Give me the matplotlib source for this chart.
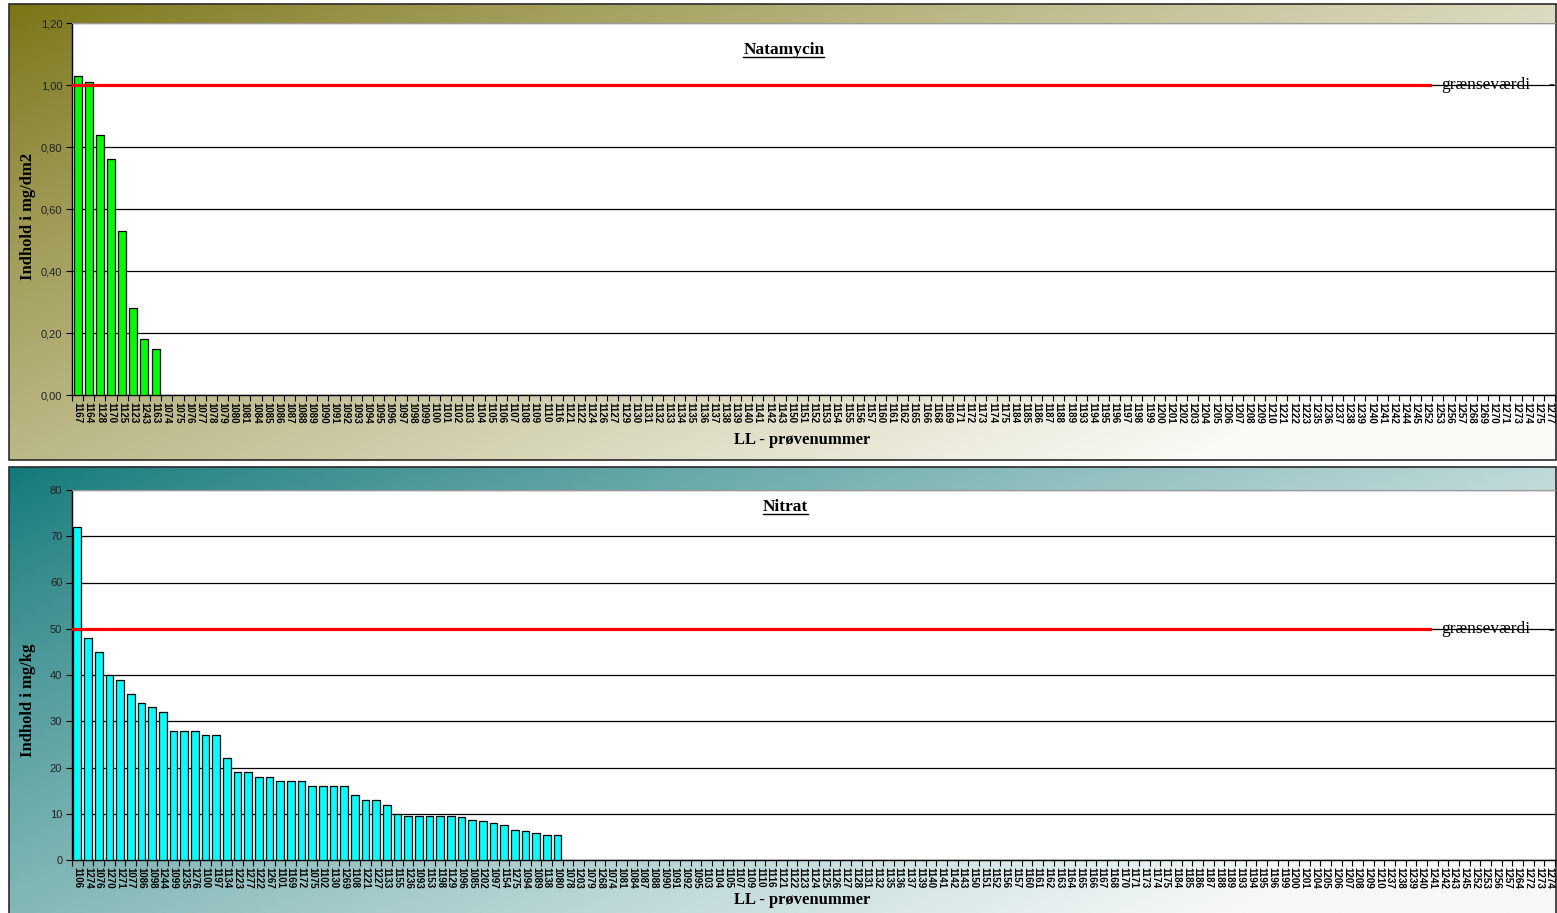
import matplotlib.pyplot as plt
import numpy as np
from matplotlib.lines import Line2D
from matplotlib.patches import Rectangle
from matplotlib.ticker import FixedLocator

# Natamycin (mg/dm2), prøver sorteret efter indhold
natamycin_prover = [
    1167, 1164, 1128, 1170, 1125, 1123, 1243, 1163,
    1074, 1075, 1076, 1077, 1078, 1079, 1080, 1081, 1084, 1085,
    1086, 1087, 1088, 1089, 1090, 1091, 1092, 1093, 1094, 1095,
    1096, 1097, 1098, 1099, 1100, 1101, 1102, 1103, 1104, 1105,
    1106, 1107, 1108, 1109, 1110, 1116, 1121, 1122, 1124, 1126,
    1127, 1129, 1130, 1131, 1132, 1133, 1134, 1135, 1136, 1137,
    1138, 1139, 1140, 1141, 1142, 1143, 1150, 1151, 1152, 1153,
    1154, 1155, 1156, 1157, 1160, 1161, 1162, 1165, 1166, 1168,
    1169, 1171, 1172, 1173, 1174, 1175, 1184, 1185, 1186, 1187,
    1188, 1189, 1193, 1194, 1195, 1196, 1197, 1198, 1199, 1200,
    1201, 1202, 1203, 1204, 1205, 1206, 1207, 1208, 1209, 1210,
    1221, 1222, 1223, 1235, 1236, 1237, 1238, 1239, 1240, 1241,
    1242, 1244, 1245, 1252, 1253, 1256, 1257, 1268, 1269, 1270,
    1271, 1273, 1274, 1275, 1277,
]
natamycin_vaerdi = [1.03, 1.01, 0.84, 0.76, 0.53, 0.28, 0.18, 0.15]
natamycin_graense = 1.00

# Nitrat (mg/kg)
nitrat_prover = [
    1106, 1274, 1076, 1270, 1271, 1077, 1086, 1098, 1244, 1099,
    1235, 1276, 1100, 1197, 1134, 1223, 1277, 1222, 1267, 1101,
    1169, 1172, 1075, 1102, 1130, 1269, 1108, 1221, 1227, 1133,
    1155, 1236, 1093, 1153, 1198, 1129, 1096, 1085, 1202, 1097,
    1154, 1275, 1094, 1089, 1138, 1080,
    1078, 1203, 1079, 1268, 1074, 1081, 1084, 1087, 1088, 1090,
    1091, 1092, 1095, 1103, 1104, 1105, 1107, 1109, 1110, 1116,
    1121, 1122, 1123, 1124, 1125, 1126, 1127, 1128, 1131, 1132,
    1135, 1136, 1137, 1139, 1140, 1141, 1142, 1143, 1150, 1151,
    1152, 1156, 1157, 1160, 1161, 1162, 1163, 1164, 1165, 1166,
    1167, 1168, 1170, 1171, 1173, 1174, 1175, 1184, 1185, 1186,
    1187, 1188, 1189, 1193, 1194, 1195, 1196, 1199, 1200, 1201,
    1204, 1205, 1206, 1207, 1208, 1209, 1210, 1237, 1238, 1239,
    1240, 1241, 1242, 1243, 1245, 1252, 1253, 1256, 1257, 1264,
    1272, 1273, 1274,
]
nitrat_vaerdi = [
    72, 48, 45, 40, 39, 36, 34, 33, 32, 28,
    28, 28, 27, 27, 22, 19, 19, 18, 18, 17,
    17, 17, 16, 16, 16, 16, 14, 13, 13, 12,
    10, 9.5, 9.5, 9.5, 9.5, 9.5, 9.3, 8.7, 8.5, 8.0,
    7.5, 6.5, 6.2, 5.8, 5.5, 5.3,
]
nitrat_graense = 50

SERIF = 'Liberation Serif'
SANS = 'Liberation Sans'
W, H = 1557, 913

fig = plt.figure(figsize=(W / 100, H / 100), dpi=100, facecolor='white')


def px_box(x0, y0, x1, y1):
    # pixel box (top-left origin) -> figure fraction rect
    return [x0 / W, 1 - y1 / H, (x1 - x0) / W, (y1 - y0) / H]


def baggrund(rect, dark, light):
    bg = fig.add_axes(rect, zorder=0)
    u = np.linspace(0, 1, 400)[None, :]
    v = np.linspace(0, 1, 120)[:, None]
    t = np.clip(0.72 * u + 0.45 * v, 0, 1) ** 0.85
    dark = np.array(dark) / 255
    light = np.array(light) / 255
    img = dark[None, None, :] * (1 - t[..., None]) + light[None, None, :] * t[..., None]
    bg.imshow(img, aspect='auto', extent=(0, 1, 0, 1), interpolation='bilinear')
    bg.set_xlim(0, 1)
    bg.set_ylim(0, 1)
    bg.axis('off')
    fig.patches.append(Rectangle((rect[0], rect[1]), rect[2], rect[3], transform=fig.transFigure,
                                 fill=False, edgecolor='#2a2a2a', lw=1.2, zorder=1))


def diagram(rect, prover, vaerdi, farve, ymax, ystep, fmt, graense):
    ax = fig.add_axes(rect, zorder=2)
    ax.set_facecolor('white')
    n = len(prover)
    ax.bar(np.arange(len(vaerdi)), vaerdi, width=0.72, color=farve,
           edgecolor='black', linewidth=0.9, zorder=3)
    ax.set_xlim(-0.5, n - 0.5)
    ax.set_ylim(0, ymax)
    yt = np.arange(0, ymax + ystep / 2, ystep)
    ax.set_yticks(yt)
    ax.set_yticklabels([fmt(v) for v in yt], fontfamily=SANS, fontsize=8, color='#222222')
    ax.yaxis.grid(True, color='black', lw=0.9)
    ax.set_axisbelow(True)
    ax.set_xticks(np.arange(n))
    ax.set_xticklabels([str(p) for p in prover], rotation=-90, fontfamily=SANS,
                       fontsize=7, fontweight='bold', va='top', ha='center')
    ax.xaxis.set_minor_locator(FixedLocator(np.arange(n + 1) - 0.5))
    ax.tick_params(axis='x', which='major', length=0, pad=5)
    ax.tick_params(axis='x', which='minor', length=4, width=0.8, direction='out')
    ax.tick_params(axis='y', length=4, width=0.8, direction='out', pad=3)
    for s in ('left', 'bottom'):
        ax.spines[s].set_color('black')
        ax.spines[s].set_linewidth(1.0)
    ax.spines['top'].set_color('#9a9a9a')
    ax.spines['right'].set_visible(False)
    ax.axhline(graense, xmin=0, xmax=0.9157, color='#ff0000', lw=2.3, zorder=5)
    ax.text(0.923, graense, 'grænseværdi', transform=ax.get_yaxis_transform(),
            fontfamily=SERIF, fontsize=12.5, va='center', ha='left')
    return ax


def dansk(dec):
    return lambda v: f'{v:.{dec}f}'.replace('.', ',')


# Natamycin
baggrund(px_box(9, 4, 1556, 460), (122, 116, 20), (250, 250, 246))
ax1 = diagram(px_box(72, 23, 1555, 395), natamycin_prover, natamycin_vaerdi, '#00ff00',
              1.2, 0.2, dansk(2), natamycin_graense)

# Nitrat
baggrund(px_box(9, 467, 1556, 925), (18, 120, 120), (246, 248, 248))
ax2 = diagram(px_box(72, 490, 1555, 860), nitrat_prover, nitrat_vaerdi, '#00ffff',
              80, 10, dansk(0), nitrat_graense)

# streg efter grænseværdi-teksten
for y in (84, 630):
    fig.text(1548 / W, 1 - y / H, '-', fontfamily=SERIF, fontsize=12.5,
             ha='left', va='center', zorder=20)

titler = [
    ax1.text(0.480, 0.927, 'Natamycin', transform=ax1.transAxes, fontfamily=SERIF,
             fontweight='bold', fontsize=12.5, ha='center', va='center'),
    ax2.text(0.481, 0.954, 'Nitrat', transform=ax2.transAxes, fontfamily=SERIF,
             fontweight='bold', fontsize=12.5, ha='center', va='center'),
]

fig.text(28 / W, 1 - 216 / H, 'Indhold i mg/dm2', rotation=90, fontfamily=SERIF,
         fontweight='bold', fontsize=12, ha='center', va='center')
fig.text(28 / W, 1 - 700 / H, 'Indhold i mg/kg', rotation=90, fontfamily=SERIF,
         fontweight='bold', fontsize=12, ha='center', va='center')
fig.text(802 / W, 1 - 440 / H, 'LL - prøvenummer', fontfamily=SERIF,
         fontweight='bold', fontsize=12, ha='center', va='center')
fig.text(802 / W, 1 - 900 / H, 'LL - prøvenummer', fontfamily=SERIF,
         fontweight='bold', fontsize=12, ha='center', va='center')

# understregning af titlerne
fig.canvas.draw()
r = fig.canvas.get_renderer()
inv = fig.transFigure.inverted()
for t in titler:
    bb = t.get_window_extent(r)
    (x0, y0), (x1, _) = inv.transform([(bb.x0, bb.y0 + 1), (bb.x1, bb.y0 + 1)])
    fig.lines.append(Line2D([x0, x1], [y0, y0], transform=fig.transFigure,
                            color='black', lw=1.0, zorder=10))

fig.savefig('out.png', dpi=100)
